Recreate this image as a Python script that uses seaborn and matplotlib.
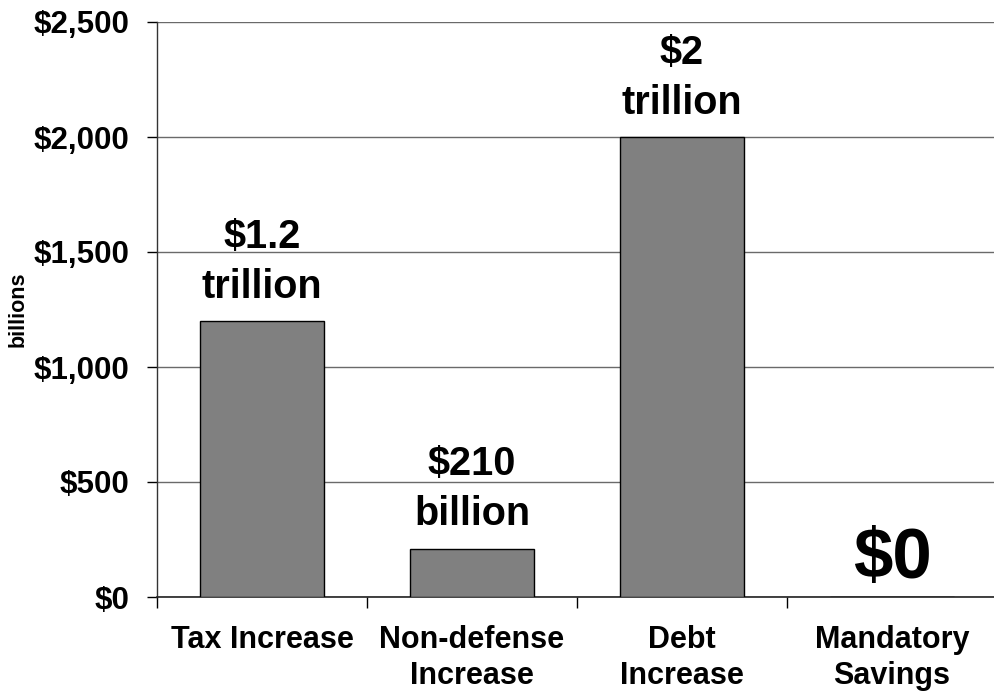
import matplotlib
matplotlib.use("Agg")
import matplotlib.pyplot as plt
import seaborn as sns
import pandas as pd
from matplotlib.ticker import FuncFormatter, FixedLocator

categories = ["Tax Increase", "Non-defense\nIncrease", "Debt\nIncrease", "Mandatory\nSavings"]
values = [1200, 210, 2000, 0]
bar_labels = ["$1.2\ntrillion", "$210\nbillion", "$2\ntrillion", "$0"]
y_ticks = [0, 500, 1000, 1500, 2000, 2500]

sns.set_theme(style="white")
plt.rcParams['font.family'] = ['Liberation Sans', 'DejaVu Sans']
plt.rcParams['font.weight'] = 'bold'
plt.rcParams['text.color'] = 'black'
plt.rcParams['axes.labelcolor'] = 'black'
plt.rcParams['xtick.color'] = 'black'
plt.rcParams['ytick.color'] = 'black'

df = pd.DataFrame({"category": categories, "value": values})

fig = plt.figure(figsize=(9.95, 6.93), dpi=100)
ax = fig.add_axes([157/995, 96/693, 840/995, 575/693])

sns.barplot(data=df, x="category", y="value", color="#808080", saturation=1,
            edgecolor="black", linewidth=1, width=0.59, ax=ax, zorder=3)

ax.set_xlim(-0.5, 3.5)
ax.set_ylim(0, 2500)
ax.set_yticks(y_ticks)
ax.yaxis.set_major_formatter(FuncFormatter(lambda v, p: f"${v:,.0f}"))
ax.tick_params(axis='y', labelsize=22.5, length=7, width=1, color="black",
               labelcolor="black", pad=13, left=True)
for lbl in ax.get_yticklabels():
    lbl.set_fontweight('bold')
ax.grid(axis='y', color="#6a6a6a", linewidth=1, zorder=0)
ax.set_axisbelow(True)

ax.tick_params(axis='x', which='major', length=0, labelsize=22, pad=20, labelcolor="black")
for lbl in ax.get_xticklabels():
    lbl.set_fontweight('bold')
    lbl.set_linespacing(1.25)
ax.xaxis.set_minor_locator(FixedLocator([-0.5, 0.5, 1.5, 2.5, 3.5]))
ax.tick_params(axis='x', which='minor', length=8, width=1, color="black", bottom=True)

for s in ["top", "right"]:
    ax.spines[s].set_visible(False)
ax.spines["left"].set_color("#333333")
ax.spines["bottom"].set_color("#222222")
ax.spines["left"].set_linewidth(1)
ax.spines["bottom"].set_linewidth(1.2)

ax.set_xlabel("")
ax.set_ylabel("billions", fontsize=15.5, fontweight='bold', color="black")
ax.yaxis.set_label_coords((29 - 157) / 840, 0.5)

for i, (v, t) in enumerate(zip(values, bar_labels)):
    if v == 0:
        ax.annotate(t, (i, v), xytext=(0, 3), textcoords="offset points",
                    ha="center", va="bottom", fontsize=51, fontweight="bold",
                    color="black", zorder=1)
    else:
        ax.annotate(t, (i, v), xytext=(0, 11), textcoords="offset points",
                    ha="center", va="bottom", fontsize=28.5, fontweight="bold",
                    linespacing=1.4, color="black", zorder=1)

fig.savefig("out.png", dpi=100)
